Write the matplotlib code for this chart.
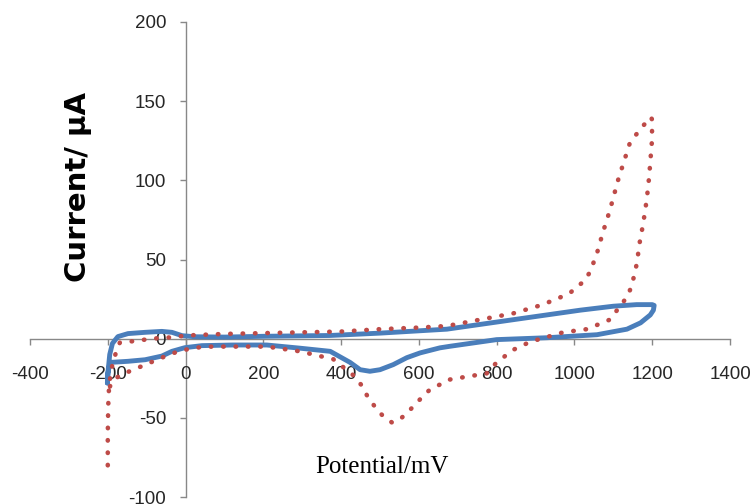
import numpy as np
import matplotlib
matplotlib.use("Agg")
import matplotlib.pyplot as plt

plt.rcParams['axes.unicode_minus'] = False

# dotted red curve (potential mV, current uA), one closed scan
red_x = [-200, -200, -199, -198, -194, -188, -178, -169, -148, -104, -61, -35, 0, 100, 200, 300,
         400, 500, 600, 672, 757, 843, 912, 954, 989, 1023, 1040, 1058, 1073, 1091, 1112, 1143,
         1175, 1197,
         1200, 1199, 1192, 1186, 1177, 1168, 1160, 1148, 1137, 1125, 1091, 1032, 971, 886, 843,
         800, 774, 723, 675, 654, 629, 608, 585, 569, 551, 531, 508, 487, 469, 454, 436, 380,
         294, 209, 122, 68, 24, -19, -61, -104, -148, -181, -194, -200]
red_y = [-80, -60, -45, -35, -25, -16, -8, -2.5, -2, -0.6, 0.6, 0.8, 2, 3, 3.5, 4,
         4.5, 6, 7, 8, 12, 16, 21, 25, 29, 36, 42, 54, 67, 81, 100, 124,
         134, 140,
         138, 124, 102, 88, 73, 61, 47, 34, 27, 23, 12, 6, 4, -2, -7,
         -15, -22, -24, -26, -29, -32, -37, -43, -47, -51, -53, -49, -43, -37, -30, -24, -13,
         -8, -5, -5, -5, -5.7, -8, -12, -16.5, -21, -25, -30, -34]

# solid blue curve
blue_x = [-201, -199, -195, -188, -174, -148, -104, -61, -35, -9, 24, 100, 200, 370, 500,
          672, 843, 1015, 1100, 1160, 1200, 1205, 1203, 1195, 1170, 1135, 1058, 930, 800,
          680, 654, 603, 569, 534, 500, 474, 449, 423, 372, 294, 209, 122, 42, -2, -35, -61,
          -104, -148, -194, -200, -201]
blue_y = [-28, -20, -10, -3, 1.3, 3.2, 4, 4.6, 4, 1.9, 1.2, 1, 1.5, 2, 3.5,
          6, 12, 18, 20.5, 21.5, 21.5, 21, 18, 15, 10, 6, 2.5, 0.6, -0.6,
          -4.8, -5.8, -9, -12, -16.4, -19.6, -20.6, -19.6, -15, -8, -6, -4, -4, -4.4, -5.7, -8, -11,
          -13.3, -14.3, -15, -22, -28]

x_ticks = [-400, -200, 0, 200, 400, 600, 800, 1000, 1200, 1400]
y_ticks = [-100, -50, 0, 50, 100, 150, 200]

fig = plt.figure(figsize=(7.54, 5.04), dpi=100)
ax = fig.add_axes([30/754, 7/504, 700/754, 475/504])

ax.plot(blue_x, blue_y, color='#4A7EBB', lw=3.5, solid_joinstyle='round', solid_capstyle='round', zorder=2)
ax.plot(red_x, red_y, color='#BE4B48', lw=3.3, linestyle=(0, (0.1, 2.6)),
        dash_capstyle='round', zorder=3)

ax.set_xlim(-400, 1400)
ax.set_ylim(-100, 200)
ax.set_xticks(x_ticks)
ax.set_yticks(y_ticks)

for s in ['top', 'right']:
    ax.spines[s].set_visible(False)
ax.spines['left'].set_position(('data', 0))
ax.spines['bottom'].set_position(('data', 0))
for s in ['left', 'bottom']:
    ax.spines[s].set_color('#888888')
    ax.spines[s].set_linewidth(1.0)
    ax.spines[s].set_zorder(1)

ax.tick_params(axis='both', direction='out', length=4.5, width=1.0, color='#888888',
               labelsize=13.5, labelcolor='#262626')
ax.tick_params(axis='x', pad=15)
ax.tick_params(axis='y', pad=9.5)
for lab in ax.get_xticklabels() + ax.get_yticklabels():
    lab.set_family('Liberation Sans')

fig.text(78/754, 1 - 187/504, 'Current/ μA', rotation=90, ha='center', va='center',
         fontsize=21, fontweight='bold', family='DejaVu Sans', color='black')
fig.text(382/754, 1 - 467/504, 'Potential/mV', ha='center', va='center',
         fontsize=18, family='Liberation Serif', color='black')

fig.savefig('out.png', dpi=100)
